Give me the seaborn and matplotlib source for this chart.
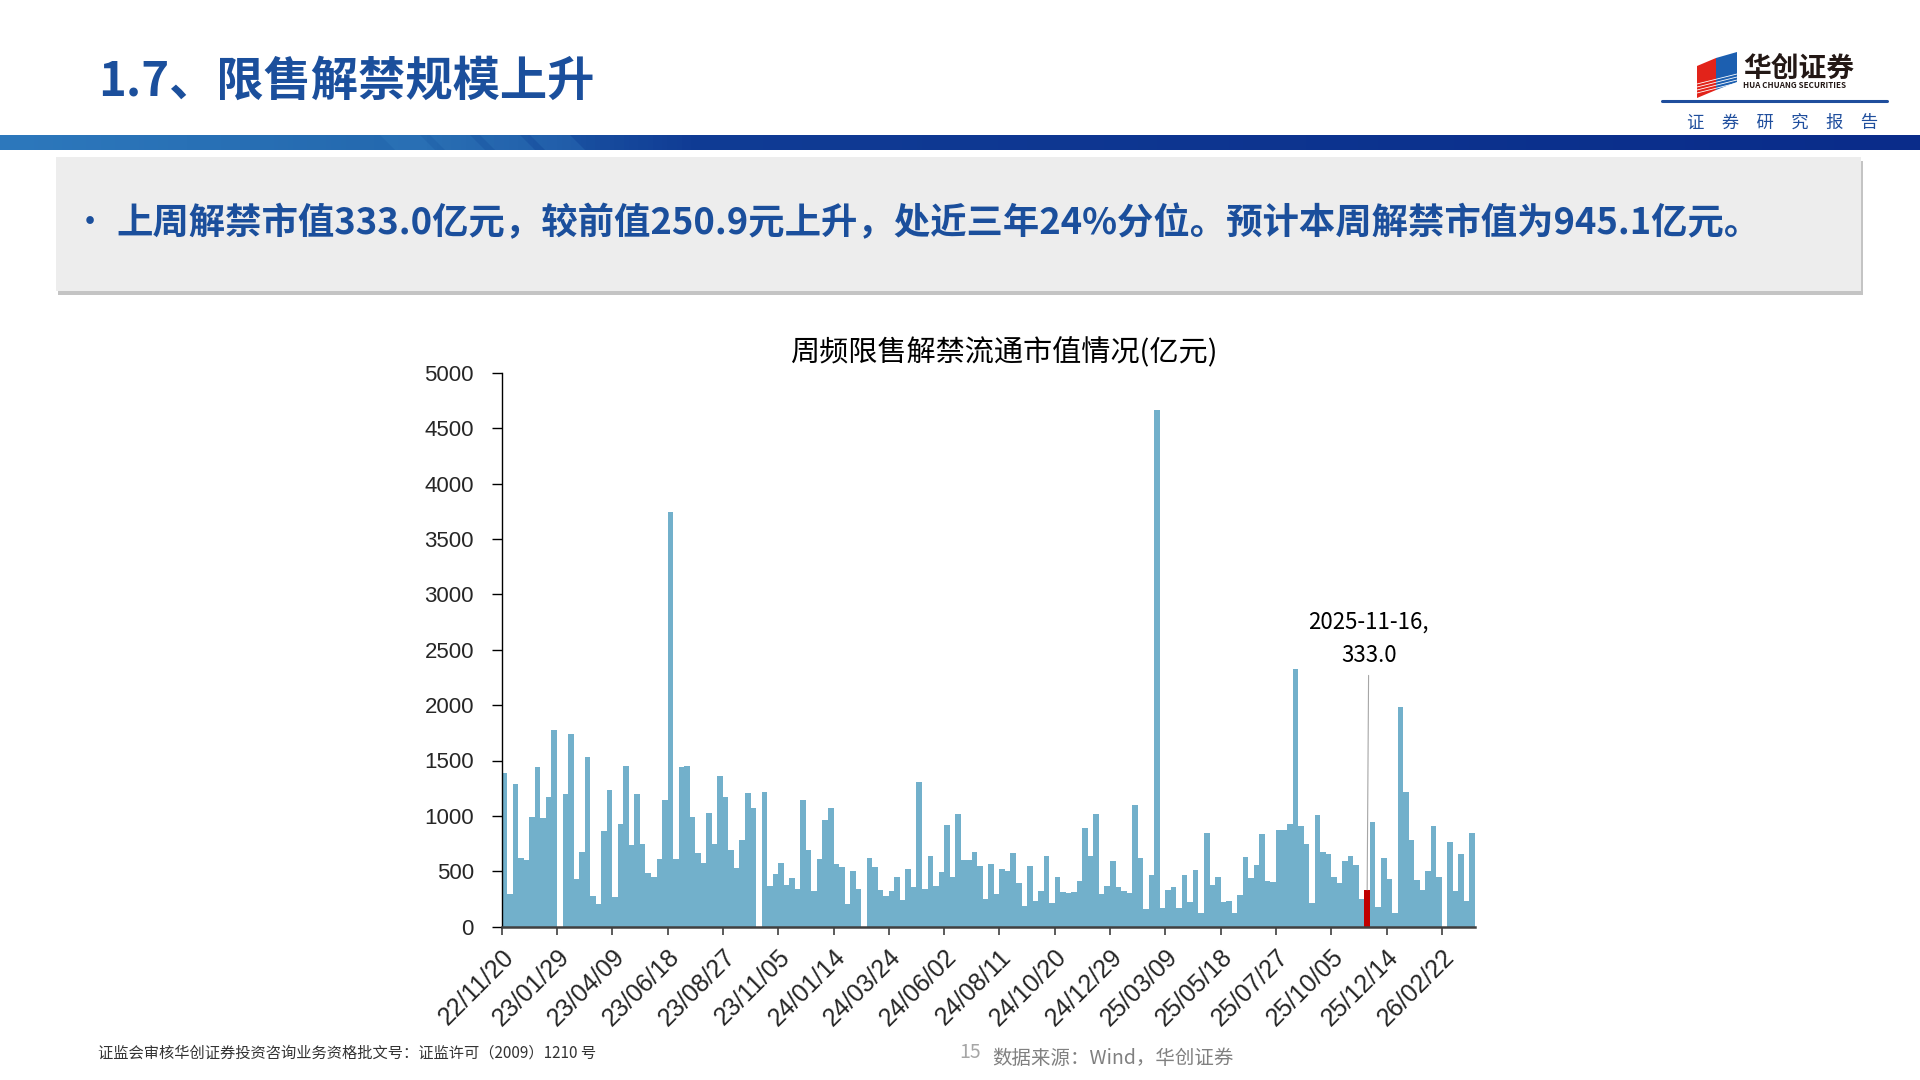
import numpy as np
import pandas as pd
import matplotlib
matplotlib.use("Agg")
import matplotlib.pyplot as plt
from matplotlib.patches import Rectangle, Polygon
from matplotlib.colors import LinearSegmentedColormap
import seaborn as sns

# weekly unlocked market value (亿元), starting week 2022-11-20
start_week = "2022-11-20"
unlock_value = [
    1389, 291, 1290, 624, 600, 990, 1443, 978, 1170, 1773,
    0, 1194, 1740, 426, 675, 1536, 273, 207, 861, 1236,
    267, 924, 1452, 735, 1200, 747, 486, 450, 609, 1143,
    3747, 612, 1443, 1449, 987, 666, 576, 1029, 747, 1356,
    1173, 690, 534, 780, 1206, 1068, 0, 1212, 363, 474,
    573, 372, 444, 339, 1143, 690, 324, 615, 963, 1071,
    570, 540, 207, 507, 336, 0, 624, 543, 327, 279,
    318, 450, 243, 519, 357, 1308, 339, 639, 366, 492,
    921, 447, 1020, 603, 606, 675, 549, 246, 570, 295,
    517, 502, 662, 391, 190, 544, 232, 322, 638, 214,
    451, 310, 304, 310, 409, 890, 635, 1014, 298, 367,
    596, 358, 319, 304, 1098, 623, 159, 469, 4660, 165,
    328, 355, 168, 463, 226, 508, 123, 848, 376, 445,
    226, 229, 123, 284, 625, 441, 553, 836, 409, 403,
    872, 875, 926, 2322, 905, 746, 214, 1005, 674, 656,
    448, 394, 593, 638, 553, 250.9, 333.0, 945.1, 180, 620,
    427, 126, 1982, 1215, 785, 421, 331, 505, 905, 445,
    0, 767, 319, 656, 229, 842,
]
highlight_date = "2025-11-16"
highlight_text = "2025-11-16,\n333.0"
y_ticks = list(range(0, 5001, 500))

page_title = "1.7、限售解禁规模上升"
summary = "上周解禁市值333.0亿元，较前值250.9元上升，处近三年24%分位。预计本周解禁市值为945.1亿元。"
chart_title = "周频限售解禁流通市值情况(亿元)"
footer_left = "证监会审核华创证券投资咨询业务资格批文号：证监许可（2009）1210 号"
page_no = "15"
source_text = "数据来源：Wind，华创证券"

weeks = pd.date_range(start_week, periods=len(unlock_value), freq="7D")
df = pd.DataFrame({
    "pos": np.arange(len(weeks)),
    "value": unlock_value,
    "kind": np.where(weeks == pd.Timestamp(highlight_date), "latest", "normal"),
})
hl_idx = int(np.where(weeks == pd.Timestamp(highlight_date))[0][0])

sns.set_style("ticks")
plt.rcParams["font.family"] = ["Noto Sans CJK SC", "DejaVu Sans"]

fig = plt.figure(figsize=(19.2, 10.8), dpi=100)

# page decorations in pixel coordinates
bg = fig.add_axes([0, 0, 1, 1], zorder=0)
bg.set_xlim(0, 1920)
bg.set_ylim(1080, 0)
bg.axis("off")

band_cmap = LinearSegmentedColormap.from_list(
    "band", [(0, "#2D78BC"), (0.22, "#2468AE"), (0.36, "#103C95"), (1, "#0A2C8A")])
bg.imshow(np.linspace(0, 1, 400)[None, :], cmap=band_cmap, aspect="auto",
          extent=(0, 1920, 150, 135), zorder=1)
for x0 in (380, 430, 480, 530):
    bg.add_patch(Polygon([(x0, 135), (x0 + 40, 135), (x0 + 55, 150), (x0 + 15, 150)],
                         closed=True, color="#3A86C6", alpha=0.25, lw=0, zorder=2))

bg.text(98, 82, page_title, fontsize=34, fontweight="bold", color="#1B4F9C",
        va="center", ha="left")

# logo
bg.add_patch(Polygon([(1697, 66), (1716, 58), (1716, 90), (1697, 98)], closed=True,
                     color="#E2231A", lw=0, zorder=3))
bg.add_patch(Polygon([(1716, 58), (1737, 52), (1737, 82), (1716, 90)], closed=True,
                     color="#1C5FB0", lw=0, zorder=3))
for dy in range(4):
    bg.plot([1697, 1737], [84 + dy * 3, 74 + dy * 3], color="white", lw=0.6, zorder=4)
bg.text(1743, 69, "华创证券", fontsize=20, fontweight="bold", color="#231815",
        va="center", ha="left")
bg.text(1743, 86, "HUA CHUANG SECURITIES", fontsize=5.8, fontweight="bold",
        color="#231815", va="center", ha="left")
bg.plot([1662, 1887], [101, 101], color="#1F4E9D", lw=2.2)
bg.text(1783, 123, "证　券　研　究　报　告", fontsize=12.5, color="#1F4E9D",
        va="center", ha="center")

# summary box
bg.add_patch(Rectangle((58, 161), 1805, 134, color="#C4C4C4", lw=0, zorder=1))
bg.add_patch(Rectangle((56, 157), 1805, 134, color="#EDEDED", lw=0, zorder=2))
bg.text(72, 224, "•", fontsize=26, color="#1B4F9C", va="center", ha="left", zorder=3)
bg.text(116, 224, summary, fontsize=26.2, fontweight="bold", color="#1B4F9C",
        va="center", ha="left", zorder=3)

# footer
bg.text(98, 1053, footer_left, fontsize=11, color="#333333", va="center", ha="left")
bg.text(959, 1053, page_no, fontsize=14, color="#A6A6A6", va="center", ha="left")
bg.text(992, 1058, source_text, fontsize=14, color="#808080", va="center", ha="left")

# chart
ax = fig.add_axes([501.7 / 1920, 1 - 926.7 / 1080, 973.3 / 1920, 554 / 1080], zorder=5)
sns.barplot(data=df, x="pos", y="value", hue="kind", native_scale=True, dodge=False,
            palette={"normal": "#72B0CB", "latest": "#C00000"}, width=1, saturation=1,
            errorbar=None, legend=False, linewidth=0, ax=ax)

ax.set_xlim(-0.5, len(unlock_value) - 0.5)
ax.set_ylim(0, 5000)
ax.set_yticks(y_ticks)
ax.set_yticklabels([str(v) for v in y_ticks], fontsize=16, family="Liberation Sans")
tick_pos = np.arange(0, len(unlock_value), 10)
ax.set_xticks(tick_pos - 0.5)
ax.set_xticklabels([weeks[i].strftime("%y/%m/%d") for i in tick_pos], rotation=45,
                   ha="right", rotation_mode="anchor", fontsize=18, family="Liberation Sans")
ax.set_xlabel("")
ax.set_ylabel("")
ax.tick_params(axis="y", length=7, width=1, color="black", pad=13)
ax.tick_params(axis="x", length=6, width=1.2, color="#404040", pad=7)
for s in ("top", "right"):
    ax.spines[s].set_visible(False)
ax.spines["left"].set_color("black")
ax.spines["left"].set_linewidth(1)
ax.spines["bottom"].set_color("#404040")
ax.spines["bottom"].set_linewidth(1.8)

ax.annotate(highlight_text, xy=(hl_idx, unlock_value[hl_idx]), xytext=(hl_idx + 0.3, 2600),
            ha="center", va="center", fontsize=16, linespacing=1.55, color="black",
            arrowprops=dict(arrowstyle="-", color="#A6A6A6", lw=0.8, shrinkA=4, shrinkB=0))

fig.text(1004 / 1920, 1 - 353 / 1080, chart_title, fontsize=21, fontweight="medium",
         color="black", ha="center", va="center")

fig.savefig("out.png", dpi=100)
